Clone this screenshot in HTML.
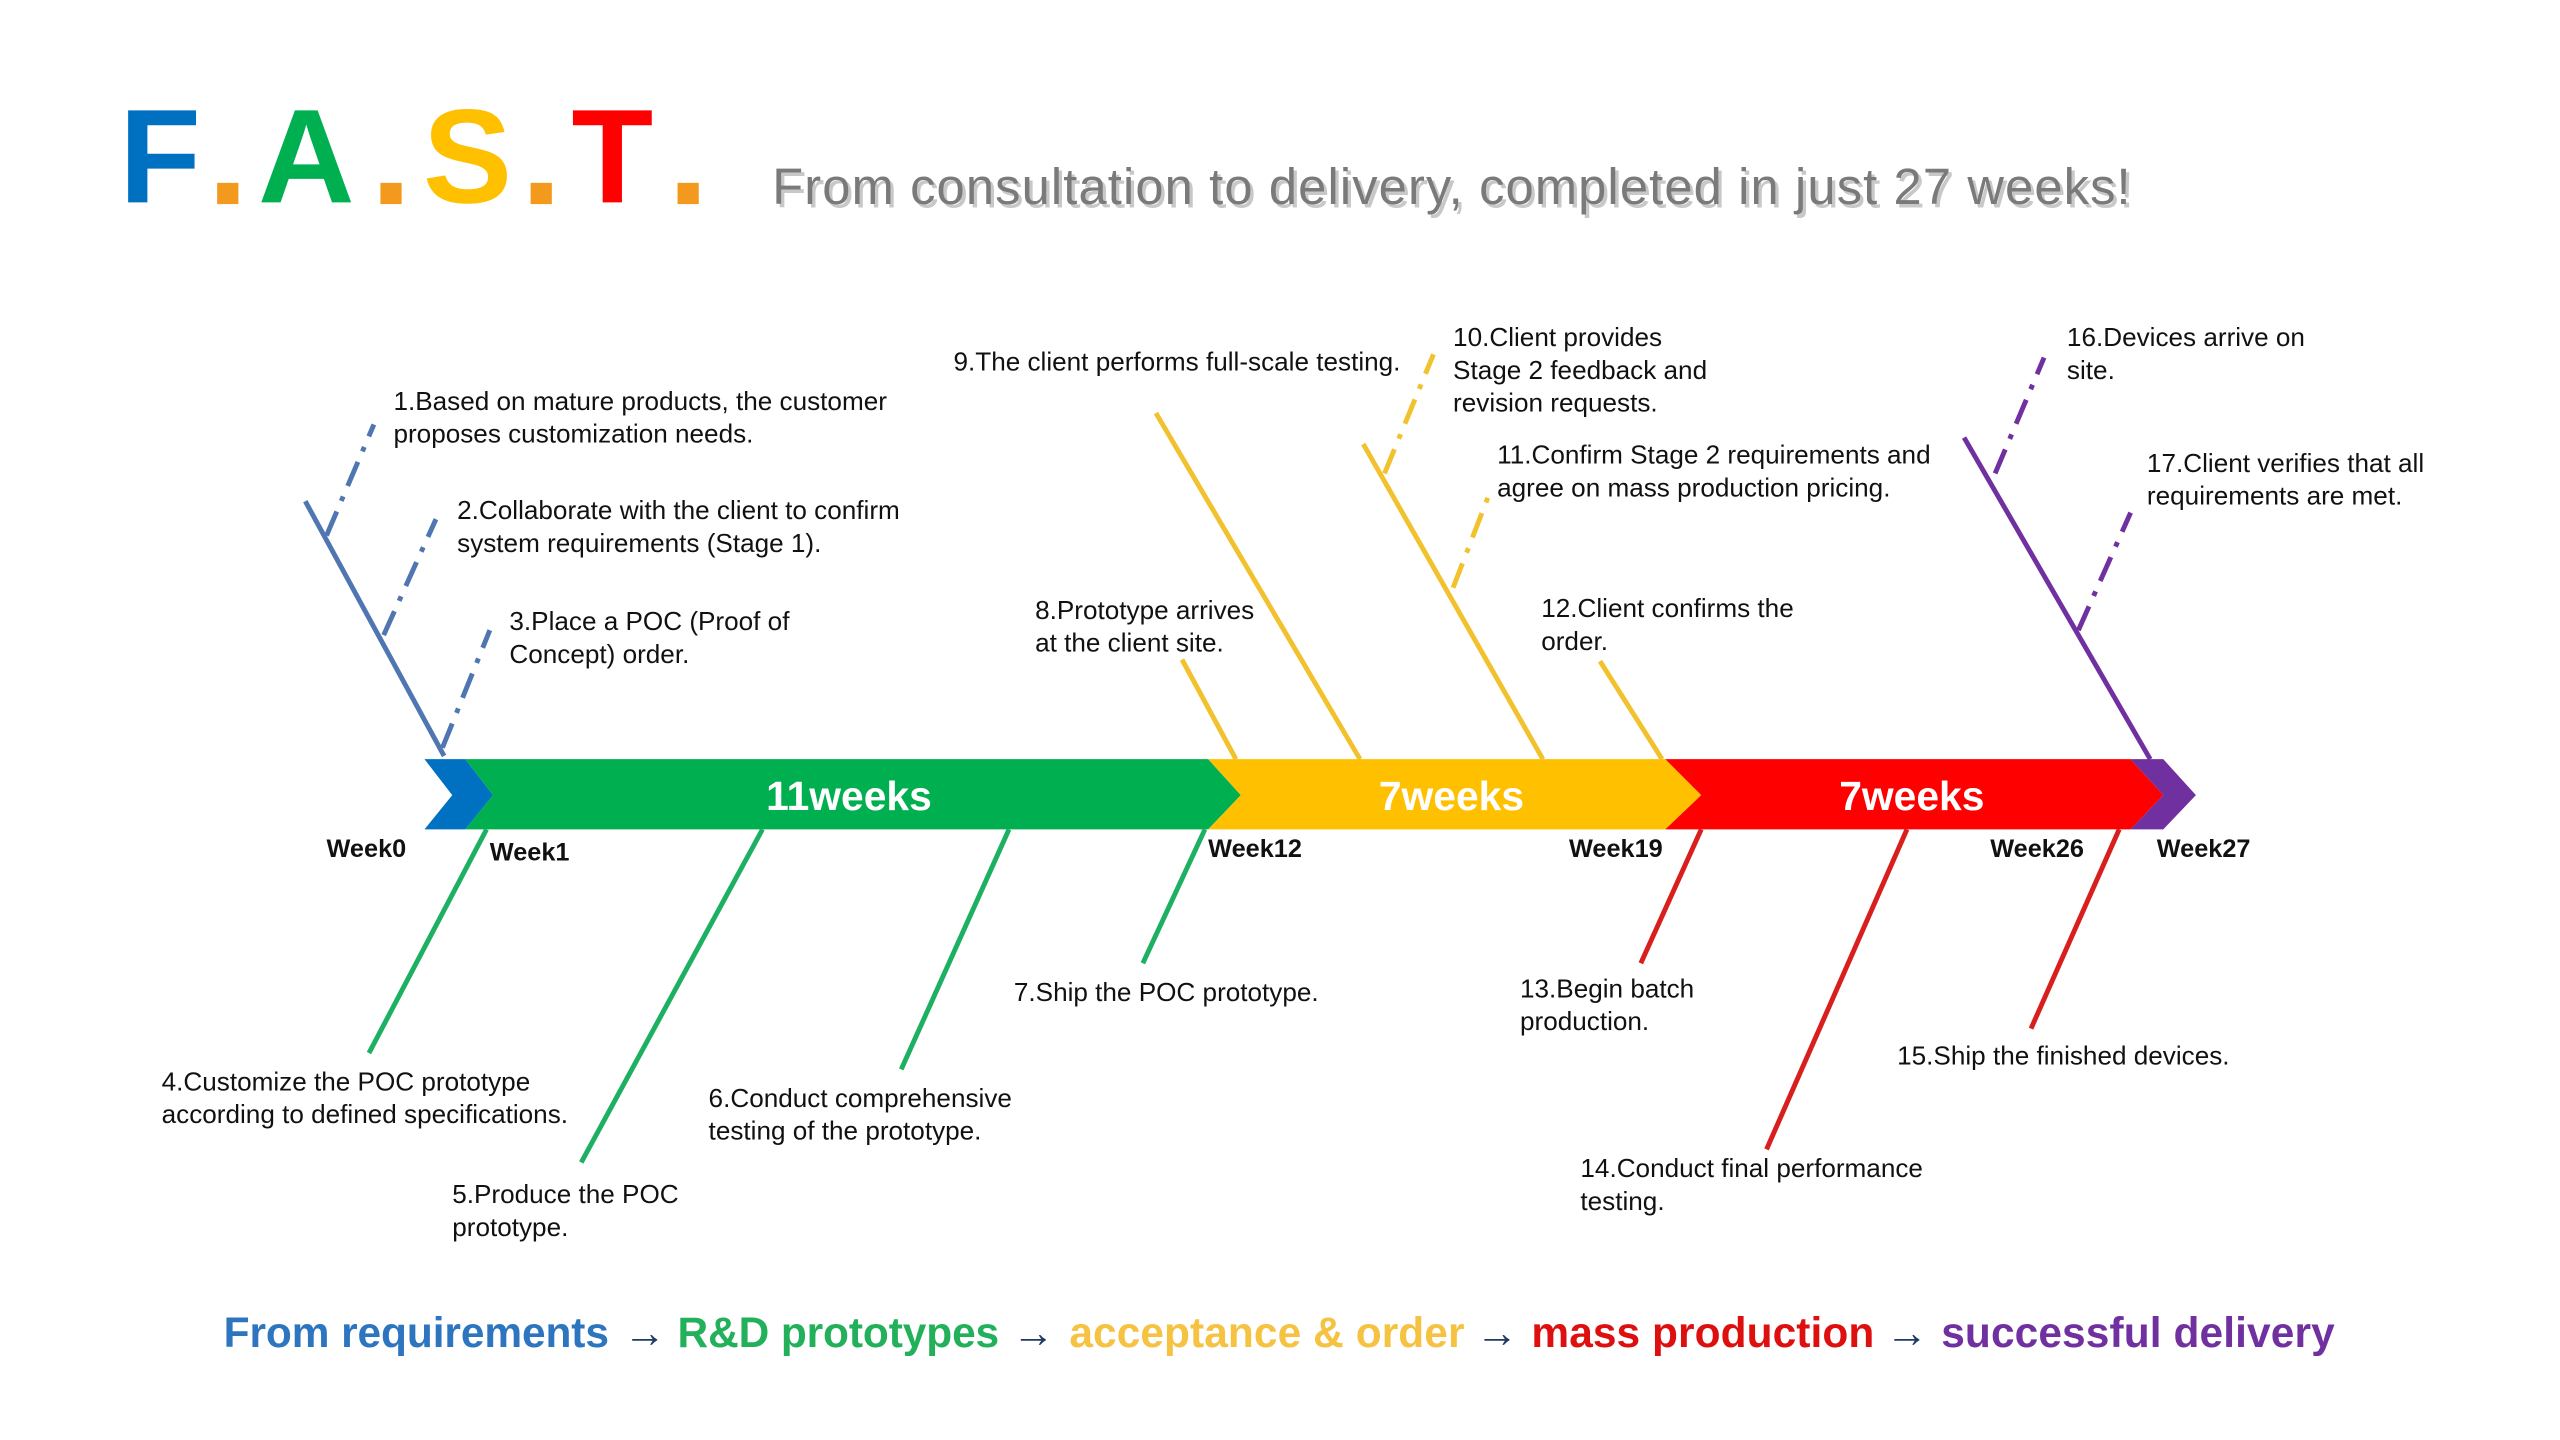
<!DOCTYPE html>
<html><head><meta charset="utf-8"><style>
html,body{margin:0;padding:0;background:#fff;}
svg{display:block;}
text{font-family:"Liberation Sans",Arial,sans-serif;}
.t{font-size:16px;fill:#111;}
.w{font-size:15.5px;font-weight:bold;fill:#111;}
.b{font-size:25px;font-weight:bold;fill:#fff;}
.f{font-size:26px;font-weight:bold;}
</style></head><body>
<svg width="2560" height="1440" viewBox="0 0 1568 882" xmlns="http://www.w3.org/2000/svg">
<rect width="1568" height="882" fill="#fff"/>
<g font-size="82" font-weight="bold" style="font-family:'Liberation Sans',sans-serif">
<text x="73" y="124" fill="#0070C0">F</text>
<rect x="133" y="112" width="13" height="13" fill="#F39A1E"/>
<text x="158" y="124" fill="#00B050">A</text>
<rect x="233" y="112" width="13" height="13" fill="#F39A1E"/>
<text x="259" y="124" fill="#FFC000">S</text>
<rect x="325" y="112" width="13" height="13" fill="#F39A1E"/>
<text x="350" y="124" fill="#FF0000">T</text>
<rect x="415" y="112" width="13" height="13" fill="#F39A1E"/>
</g>
<text x="475" y="127" font-size="31" fill="#c8c8c8" textLength="832">From consultation to delivery, completed in just 27 weeks!</text>
<text x="473" y="125" font-size="31" fill="#7a7a7a" textLength="832">From consultation to delivery, completed in just 27 weeks!</text>

<polygon points="260,465 285,465 302,487 285,508 260,508 277,487" fill="#0070C0"/>
<polygon points="285,465 740,465 760,487 740,508 285,508 302,487" fill="#00B050"/>
<polygon points="740,465 1020,465 1042,487 1020,508 740,508 760,487" fill="#FFC000"/>
<polygon points="1020,465 1305,465 1325,487 1305,508 1020,508 1042,487" fill="#FF0000"/>
<polygon points="1305,465 1325,465 1345,487 1325,508 1305,508 1325,487" fill="#7030A0"/>
<text class="b" x="520" y="496" text-anchor="middle">11weeks</text>
<text class="b" x="889" y="496" text-anchor="middle">7weeks</text>
<text class="b" x="1171" y="496" text-anchor="middle">7weeks</text>

<text class="w" x="200" y="525">Week0</text>
<text class="w" x="300" y="527">Week1</text>
<text class="w" x="740" y="525">Week12</text>
<text class="w" x="961" y="525">Week19</text>
<text class="w" x="1219" y="525">Week26</text>
<text class="w" x="1321" y="525">Week27</text>

<g stroke="#4F76B0" stroke-width="3" fill="none">
<line x1="187" y1="307" x2="272" y2="463"/>
<g stroke-dasharray="16 7 3 7">
<line x1="200" y1="328" x2="229" y2="260"/>
<line x1="235" y1="389" x2="267" y2="318"/>
<line x1="271" y1="458" x2="300" y2="386"/>
</g></g>
<g stroke="#1DB062" stroke-width="3">
<line x1="298" y1="508" x2="226" y2="645"/>
<line x1="467" y1="508" x2="356" y2="712"/>
<line x1="618" y1="508" x2="552" y2="655"/>
<line x1="738" y1="508" x2="700" y2="590"/>
</g>
<g stroke="#F2C12E" stroke-width="3" fill="none">
<line x1="757" y1="465" x2="724" y2="404"/>
<line x1="833" y1="465" x2="708" y2="253"/>
<line x1="945" y1="465" x2="835" y2="272"/>
<line x1="1018" y1="465" x2="980" y2="405"/>
<g stroke-dasharray="16 7 3 7">
<line x1="848" y1="290" x2="878" y2="217"/>
<line x1="890" y1="360" x2="912" y2="303"/>
</g></g>
<g stroke="#D91E1E" stroke-width="3">
<line x1="1042" y1="508" x2="1005" y2="590"/>
<line x1="1168" y1="508" x2="1082" y2="704"/>
<line x1="1298" y1="508" x2="1244" y2="630"/>
</g>
<g stroke="#7030A0" stroke-width="3" fill="none">
<line x1="1317" y1="465" x2="1203" y2="268"/>
<g stroke-dasharray="16 7 3 7">
<line x1="1222" y1="290" x2="1252" y2="219"/>
<line x1="1273" y1="386" x2="1305" y2="314"/>
</g></g>

<text class="t" x="241" y="251">1.Based on mature products, the customer</text>
<text class="t" x="241" y="271">proposes customization needs.</text>
<text class="t" x="280" y="318">2.Collaborate with the client to confirm</text>
<text class="t" x="280" y="338">system requirements (Stage 1).</text>
<text class="t" x="312" y="386">3.Place a POC (Proof of</text>
<text class="t" x="312" y="406">Concept) order.</text>
<text class="t" x="99" y="668">4.Customize the POC prototype</text>
<text class="t" x="99" y="688">according to defined specifications.</text>
<text class="t" x="277" y="737">5.Produce the POC</text>
<text class="t" x="277" y="757">prototype.</text>
<text class="t" x="434" y="678">6.Conduct comprehensive</text>
<text class="t" x="434" y="698">testing of the prototype.</text>
<text class="t" x="621" y="613">7.Ship the POC prototype.</text>
<text class="t" x="634" y="379">8.Prototype arrives</text>
<text class="t" x="634" y="399">at the client site.</text>
<text class="t" x="584" y="227">9.The client performs full-scale testing.</text>
<text class="t" x="890" y="212">10.Client provides</text>
<text class="t" x="890" y="232">Stage 2 feedback and</text>
<text class="t" x="890" y="252">revision requests.</text>
<text class="t" x="917" y="284">11.Confirm Stage 2 requirements and</text>
<text class="t" x="917" y="304">agree on mass production pricing.</text>
<text class="t" x="944" y="378">12.Client confirms the</text>
<text class="t" x="944" y="398">order.</text>
<text class="t" x="931" y="611">13.Begin batch</text>
<text class="t" x="931" y="631">production.</text>
<text class="t" x="968" y="721">14.Conduct final performance</text>
<text class="t" x="968" y="741">testing.</text>
<text class="t" x="1162" y="652">15.Ship the finished devices.</text>
<text class="t" x="1266" y="212">16.Devices arrive on</text>
<text class="t" x="1266" y="232">site.</text>
<text class="t" x="1315" y="289">17.Client verifies that all</text>
<text class="t" x="1315" y="309">requirements are met.</text>

<text class="f" x="137" y="825" fill="#2E75C0" textLength="236">From requirements</text>
<text class="f" x="382" y="825" fill="#1F3864" font-weight="normal">→</text>
<text class="f" x="415" y="825" fill="#22B05A" textLength="197">R&amp;D prototypes</text>
<text class="f" x="620" y="825" fill="#1F3864" font-weight="normal">→</text>
<text class="f" x="655" y="825" fill="#F5C242" textLength="242">acceptance &amp; order</text>
<text class="f" x="904" y="825" fill="#1F3864" font-weight="normal">→</text>
<text class="f" x="938" y="825" fill="#DD0F0F" textLength="210">mass production</text>
<text class="f" x="1155" y="825" fill="#1F3864" font-weight="normal">→</text>
<text class="f" x="1189" y="825" fill="#7030A0" textLength="241">successful delivery</text>
</svg>
</body></html>
